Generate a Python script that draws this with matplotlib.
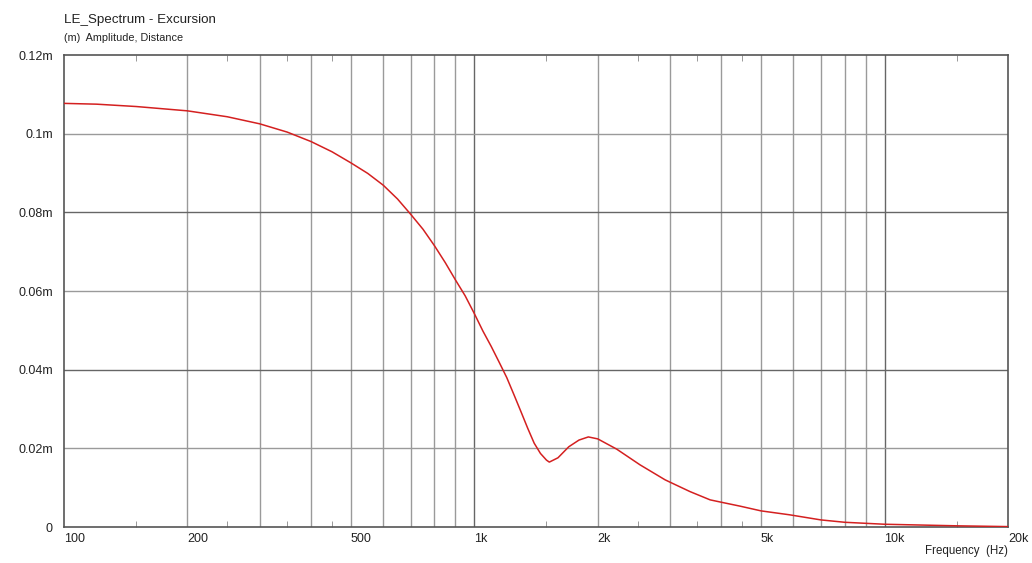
import numpy as np
import matplotlib.pyplot as plt
from matplotlib.ticker import FixedLocator, NullFormatter

plt.rcParams['font.family'] = ['Liberation Sans', 'DejaVu Sans']

# Excursion curve (Hz, metres)
freq = [100, 120, 150, 200, 250, 300, 350, 400, 450, 500, 550, 600, 650,
        700, 750, 800, 850, 900, 950, 1000, 1050, 1100, 1150, 1200, 1250,
        1300, 1350, 1400, 1450, 1500, 1524, 1600, 1700, 1800, 1897, 2000,
        2224, 2536, 2918, 3000, 3357, 3758, 4000, 4446, 5000, 5870, 7000,
        8000, 10000, 15000, 20000]
excursion = [0.1077, 0.1075, 0.1069, 0.1058, 0.1043, 0.1025, 0.1004, 0.0980,
             0.0954, 0.0926, 0.0899, 0.0869, 0.0834, 0.0795, 0.0757, 0.0715,
             0.0672, 0.0628, 0.0588, 0.0543, 0.0498, 0.0459, 0.0419, 0.0380,
             0.0336, 0.0293, 0.0251, 0.0213, 0.0187, 0.0170, 0.0165, 0.0176,
             0.0204, 0.0221, 0.0229, 0.0224, 0.0198, 0.0158, 0.0120, 0.0114,
             0.0090, 0.0069, 0.0063, 0.0053, 0.0041, 0.0031, 0.0018, 0.0012,
             0.0007, 0.0003, 0.0001]

x_ticks = [100, 200, 500, 1000, 2000, 5000, 10000, 20000]
x_labels = ['100', '200', '500', '1k', '2k', '5k', '10k', '20k']
x_grid = [200, 300, 400, 500, 600, 700, 800, 900, 2000, 3000, 4000, 5000,
          6000, 7000, 8000, 9000]
x_major_grid = [1000, 10000]
x_minor = [150, 250, 350, 450, 1500, 2500, 3500, 4500, 15000]
y_ticks = [0, 0.02, 0.04, 0.06, 0.08, 0.1, 0.12]
y_labels = ['0', '0.02m', '0.04m', '0.06m', '0.08m', '0.1m', '0.12m']

fig = plt.figure(figsize=(10.32, 5.63), dpi=100)
ax = fig.add_axes([64 / 1032, 36 / 563, 944 / 1032, 472 / 563])

ax.set_xscale('log')
ax.set_xlim(100, 20000)
ax.set_ylim(0, 0.12)

# grid lines
for f in x_grid:
    ax.axvline(f, color='#9a9a9a', lw=1, zorder=1)
for f in x_major_grid:
    ax.axvline(f, color='#666666', lw=1, zorder=1)
for v in y_ticks[1:-1]:
    col = '#666666' if v in (0.04, 0.08) else '#9a9a9a'
    ax.axhline(v, color=col, lw=1, zorder=1)

ax.plot(freq, excursion, color='#d42020', lw=1.1, zorder=3)

for s in ax.spines.values():
    s.set_color('#555555')
    s.set_linewidth(1.2)

ax.xaxis.set_major_locator(FixedLocator(x_ticks))
ax.set_xticklabels(x_labels)
ax.xaxis.set_minor_locator(FixedLocator(x_minor))
ax.xaxis.set_minor_formatter(NullFormatter())
ax.tick_params(axis='x', which='major', length=0, pad=4, labelsize=9,
               labelcolor='#222222')
ax.tick_params(axis='x', which='minor', direction='in', length=4,
               top=True, bottom=True, color='#888888')
for lbl in ax.get_xticklabels():
    lbl.set_horizontalalignment('left')
ax.set_yticks(y_ticks)
ax.set_yticklabels(y_labels)
ax.tick_params(axis='y', length=0, pad=8, labelsize=9, labelcolor='#222222')

fig.text(64 / 1032, 1 - 20 / 563, 'LE_Spectrum - Excursion', fontsize=9.6,
         va='center', ha='left', color='#222222')
fig.text(64 / 1032, 1 - 38 / 563, '(m)  Amplitude, Distance', fontsize=7.8,
         va='center', ha='left', color='#222222')
fig.text(1008 / 1032, 1 - 551 / 563, 'Frequency  (Hz)', fontsize=8.3,
         va='center', ha='right', color='#222222')

fig.savefig('out.png', dpi=100, facecolor='white')
